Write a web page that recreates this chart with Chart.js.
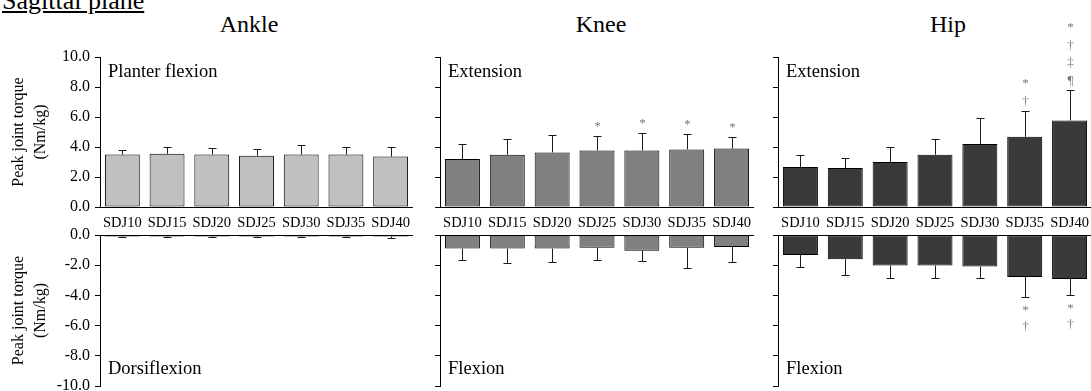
<!DOCTYPE html>
<html>
<head>
<meta charset="utf-8">
<script src="https://cdn.jsdelivr.net/npm/chart.js@4"></script>
<style>
  body { margin: 0; width: 1091px; height: 391px; overflow: hidden; background: #fff; position: relative;
         font-family: "Liberation Serif", "Times New Roman", serif; }
  canvas { position: absolute; }
  .ttl { position: absolute; top: 12px; font-size: 24px; line-height: 24px; white-space: nowrap; transform: translateX(-50%); }
  #plane { position: absolute; left: 2px; top: -12px; font-size: 26px; line-height: 26px; text-decoration: underline; white-space: nowrap; }
</style>
</head>
<body>
<div id="plane">Sagittal plane</div>
<div class="ttl" style="left:249px">Ankle</div>
<div class="ttl" style="left:601px">Knee</div>
<div class="ttl" style="left:948px">Hip</div>

<canvas id="ankleTop"></canvas>
<canvas id="kneeTop"></canvas>
<canvas id="hipTop"></canvas>
<canvas id="ankleBot"></canvas>
<canvas id="kneeBot"></canvas>
<canvas id="hipBot"></canvas>

<script>
// data (mean and SD, Nm/kg)
const categories = ['SDJ10', 'SDJ15', 'SDJ20', 'SDJ25', 'SDJ30', 'SDJ35', 'SDJ40'];

const ankleExt = [3.5, 3.55, 3.5, 3.42, 3.5, 3.5, 3.36];
const ankleExtSD = [0.33, 0.45, 0.43, 0.42, 0.63, 0.52, 0.66];
const ankleFlex = [-0.1, -0.1, -0.1, -0.1, -0.1, -0.1, -0.1];
const ankleFlexSD = [0.03, 0.03, 0.03, 0.03, 0.03, 0.03, 0.08];

const kneeExt = [3.2, 3.49, 3.64, 3.77, 3.77, 3.84, 3.9];
const kneeExtSD = [1.0, 1.04, 1.16, 0.96, 1.18, 1.02, 0.8];
const kneeFlex = [-0.9, -0.9, -0.9, -0.84, -1.04, -0.84, -0.8];
const kneeFlexSD = [0.78, 0.97, 0.88, 0.83, 0.7, 1.32, 1.0];

const hipExt = [2.67, 2.6, 3.0, 3.49, 4.2, 4.68, 5.77];
const hipExtSD = [0.77, 0.69, 1.0, 1.04, 1.73, 1.71, 2.02];
const hipFlex = [-1.33, -1.6, -2.02, -2.02, -2.09, -2.78, -2.91];
const hipFlexSD = [0.76, 1.04, 0.82, 0.82, 0.75, 1.33, 1.04];

// significance marks, top to bottom
const noMarks = ['', '', '', '', '', '', ''];
const kneeExtMarks = ['', '', '', '*', '*', '*', '*'];
const hipExtMarks = ['', '', '', '', '', '*†', '*†‡¶'];
const hipFlexMarks = ['', '', '', '', '', '*†', '*†'];

const topTicks = [0, 2, 4, 6, 8, 10];
const bottomTicks = [-10, -8, -6, -4, -2, 0];

const serif = '"Liberation Serif", "Times New Roman", serif';

const extras = {
  id: 'extras',
  afterDatasetsDraw(chart, args, o) {
    const ctx = chart.ctx, y = chart.scales.y, area = chart.chartArea;
    const meta = chart.getDatasetMeta(0);
    const vals = chart.data.datasets[0].data;
    ctx.save();
    meta.data.forEach((bar, i) => {
      const v = vals[i], sd = o.sd[i];
      const dir = v < 0 ? -1 : 1;
      const y1 = Math.round(y.getPixelForValue(v + dir * sd)) + 0.5;
      const x = Math.round(bar.x) + 0.5;
      ctx.strokeStyle = '#1a1a1a';
      ctx.lineWidth = 1;
      ctx.beginPath();
      ctx.moveTo(x, bar.y);
      ctx.lineTo(x, y1);
      ctx.moveTo(x - 4, y1);
      ctx.lineTo(x + 4, y1);
      ctx.stroke();

      const m = o.marks[i];
      if (m) {
        ctx.fillStyle = '#7a7a7a';
        ctx.font = '13px ' + serif;
        ctx.textAlign = 'center';
        ctx.textBaseline = 'alphabetic';
        const n = m.length;
        for (let k = 0; k < n; k++) {
          const by = dir > 0 ? y1 - 7 - (n - 1 - k) * 17.5 : y1 + 16 + k * 16;
          ctx.fillText(m[k], x, by);
        }
      }
    });
    ctx.fillStyle = '#000';
    ctx.font = '18.5px ' + serif;
    ctx.textAlign = 'left';
    ctx.textBaseline = 'alphabetic';
    const ly = o.labelAt === 'top' ? area.top + 20 : area.bottom - 12;
    ctx.fillText(o.label, area.left + 8, ly);
    ctx.restore();
  }
};

function makeChart(id, box, cfg) {
  const cv = document.getElementById(id);
  cv.width = box.w;
  cv.height = box.h;
  cv.style.left = box.x + 'px';
  cv.style.top = box.y + 'px';
  const isTop = cfg.top;
  new Chart(cv, {
    type: 'bar',
    data: {
      labels: categories,
      datasets: [{
        data: cfg.values,
        backgroundColor: cfg.color,
        borderColor: '#000',
        borderWidth: 1,
        borderSkipped: false,
        barPercentage: 0.78,
        categoryPercentage: 1
      }]
    },
    options: {
      responsive: false,
      animation: false,
      devicePixelRatio: 1,
      layout: { padding: isTop ? { top: 57, bottom: 0, left: 0, right: 0 } : { top: 15, bottom: 5, left: 0, right: 0 } },
      plugins: {
        legend: { display: false },
        tooltip: { enabled: false },
        extras: { sd: cfg.sd, marks: cfg.marks, label: cfg.label, labelAt: isTop ? 'top' : 'bottom' }
      },
      scales: {
        x: {
          position: isTop ? 'bottom' : 'top',
          grid: { display: false, drawTicks: false },
          border: { display: true, color: '#000', width: 1 },
          ticks: { display: isTop, color: '#000', font: { family: serif, size: 14.5 }, padding: 7, maxRotation: 0, autoSkip: false },
          afterFit: s => { s.height = isTop ? 25 : 0; s.paddingLeft = 0; s.paddingRight = 0; }
        },
        y: {
          min: isTop ? 0 : -10,
          max: isTop ? 10 : 0,
          afterBuildTicks: s => { s.ticks = (isTop ? topTicks : bottomTicks).map(v => ({ value: v })); },
          grid: { display: true, drawOnChartArea: false, drawTicks: true, tickLength: 5, color: '#000' },
          border: { display: true, color: '#000', width: 1 },
          ticks: { display: cfg.yLabels, color: '#000', font: { family: serif, size: 16 }, padding: 5, callback: v => v.toFixed(1) },
          title: {
            display: cfg.yLabels,
            text: ['Peak joint torque', '(Nm/kg)'],
            color: '#000',
            font: { family: serif, size: 16, lineHeight: 1.375 },
            padding: { top: 8, bottom: 0 }
          },
          afterFit: s => { s.width = box.yw; s.paddingTop = 0; s.paddingBottom = 0; }
        }
      }
    },
    plugins: [extras]
  });
}

const topBox = (x, w, yw) => ({ x: x, y: 0, w: w, h: 232, yw: yw });
const botBox = (x, w, yw) => ({ x: x, y: 220, w: w, h: 171, yw: yw });

makeChart('ankleTop', topBox(0, 413, 100), { top: true, values: ankleExt, sd: ankleExtSD, marks: noMarks, color: '#c0c0c0', label: 'Planter flexion', yLabels: true });
makeChart('kneeTop', topBox(430, 324, 10), { top: true, values: kneeExt, sd: kneeExtSD, marks: kneeExtMarks, color: '#808080', label: 'Extension', yLabels: false });
makeChart('hipTop', topBox(768, 324, 10), { top: true, values: hipExt, sd: hipExtSD, marks: hipExtMarks, color: '#3a3a3a', label: 'Extension', yLabels: false });

makeChart('ankleBot', botBox(0, 413, 100), { top: false, values: ankleFlex, sd: ankleFlexSD, marks: noMarks, color: '#c0c0c0', label: 'Dorsiflexion', yLabels: true });
makeChart('kneeBot', botBox(430, 324, 10), { top: false, values: kneeFlex, sd: kneeFlexSD, marks: noMarks, color: '#808080', label: 'Flexion', yLabels: false });
makeChart('hipBot', botBox(768, 324, 10), { top: false, values: hipFlex, sd: hipFlexSD, marks: hipFlexMarks, color: '#3a3a3a', label: 'Flexion', yLabels: false });
</script>
</body>
</html>
